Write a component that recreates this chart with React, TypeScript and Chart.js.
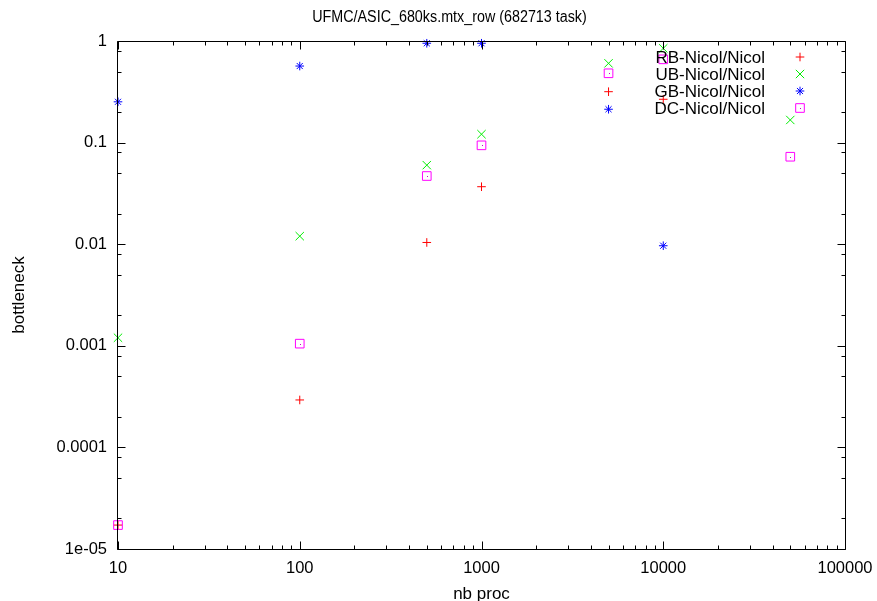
import React, { useEffect, useRef } from "react";
import { Chart, registerables } from "chart.js";
import { drawPoint } from "chart.js/helpers";

Chart.register(...registerables);

const TITLE = "UFMC/ASIC_680ks.mtx_row (682713 task)";
const X_TITLE = "nb proc";
const Y_TITLE = "bottleneck";

const procs = [10, 100, 500, 1000, 5000, 10000, 50000];
const rbValues = [1.72e-5, 2.93e-4, 0.0104, 0.0368, 0.317, 0.267, null];
const ubValues = [0.0012, 0.012, 0.06, 0.121, 0.603, 0.847, 0.167];
const gbValues = [0.252, 0.567, 0.95, 0.95, 0.213, 0.00966, null];
const dcValues = [1.72e-5, 0.00105, 0.0469, 0.094, 0.481, 0.66, 0.0726];

const seriesNames = ["RB-Nicol/Nicol", "UB-Nicol/Nicol", "GB-Nicol/Nicol", "DC-Nicol/Nicol"];

const xTickValues = [10, 100, 1000, 10000, 100000];
const xTickLabels = ["10", "100", "1000", "10000", "100000"];
const yTickValues = [1e-5, 1e-4, 1e-3, 1e-2, 1e-1, 1];
const yTickLabels = ["1e-05", "0.0001", "0.001", "0.01", "0.1", "1"];

const FONT = '"Liberation Sans", Arial, sans-serif';

const styles = [
  { color: "#ff0000", pointStyle: "cross", radius: 4.3, order: 3 },
  { color: "#00ee00", pointStyle: "crossRot", radius: 5.9, order: 2 },
  { color: "#0000ff", pointStyle: "star", radius: 4.3, order: 1 },
  { color: "#ff00ff", pointStyle: "rect", radius: 6.1, order: 0 },
];

function toPoints(vals: (number | null)[]) {
  const pts: { x: number; y: number }[] = [];
  vals.forEach((v, i) => {
    if (v !== null) pts.push({ x: procs[i], y: v });
  });
  return pts;
}

const gnuplotPlugin = {
  id: "gnuplotDecor",
  afterDatasetsDraw(chart: any) {
    const ctx = chart.ctx;
    const meta = chart.getDatasetMeta(3);
    ctx.save();
    ctx.fillStyle = "#cc00cc";
    meta.data.forEach((el: any) => {
      ctx.fillRect(Math.round(el.x), Math.round(el.y), 1, 1);
    });
    ctx.restore();
  },
  afterDraw(chart: any) {
    const { ctx, chartArea: a, scales } = chart;
    const xs = scales.x;
    const ys = scales.y;
    ctx.save();
    ctx.strokeStyle = "#000";
    ctx.lineWidth = 1;
    const L = a.left - 0.5;
    const R = a.right + 0.5;
    const T = a.top + 0.5;
    const B = a.bottom + 0.5;
    ctx.beginPath();
    ctx.rect(L, T, R - L, B - T);
    ctx.stroke();

    const major = 8;
    const minor = 4;
    ctx.beginPath();
    for (let d = 10; d <= 100000; d *= 10) {
      const p = Math.round(xs.getPixelForValue(d)) + 0.5;
      ctx.moveTo(p, B); ctx.lineTo(p, B - major);
      ctx.moveTo(p, T); ctx.lineTo(p, T + major);
      if (d < 100000) {
        for (let m = 2; m <= 9; m++) {
          const q = Math.round(xs.getPixelForValue(d * m)) + 0.5;
          ctx.moveTo(q, B); ctx.lineTo(q, B - minor);
          ctx.moveTo(q, T); ctx.lineTo(q, T + minor);
        }
      }
    }
    for (let e = -5; e <= 0; e++) {
      const d = Math.pow(10, e);
      const p = Math.round(ys.getPixelForValue(d)) + 0.5;
      ctx.moveTo(L, p); ctx.lineTo(L + major, p);
      ctx.moveTo(R, p); ctx.lineTo(R - major, p);
      if (e < 0) {
        for (const m of [2, 5, 8]) {
          const q = Math.round(ys.getPixelForValue(d * m)) + 0.5;
          ctx.moveTo(L, q); ctx.lineTo(L + minor, q);
          ctx.moveTo(R, q); ctx.lineTo(R - minor, q);
        }
      }
    }
    ctx.stroke();

    ctx.fillStyle = "#000";
    ctx.save();
    ctx.font = `16px ${FONT}`;
    ctx.textAlign = "center";
    ctx.textBaseline = "alphabetic";
    ctx.translate(449.5, 21.5);
    ctx.scale(0.895, 1);
    ctx.fillText(TITLE, 0, 0);
    ctx.restore();

    ctx.font = `17px ${FONT}`;
    ctx.textAlign = "center";
    ctx.textBaseline = "alphabetic";
    ctx.fillText(X_TITLE, (a.left + a.right) / 2, 598.5);
    ctx.save();
    ctx.translate(23.5, (a.top + a.bottom) / 2);
    ctx.rotate(-Math.PI / 2);
    ctx.fillText(Y_TITLE, 0, 0);
    ctx.restore();

    ctx.font = `17px ${FONT}`;
    ctx.textAlign = "right";
    ctx.textBaseline = "middle";
    seriesNames.forEach((name, i) => {
      const y = 57 + i * 17;
      ctx.fillStyle = "#000";
      ctx.fillText(name, 765, y + 1);
      const s = styles[i];
      ctx.strokeStyle = s.color;
      ctx.fillStyle = "rgba(0,0,0,0)";
      ctx.lineWidth = 1;
      drawPoint(ctx, { pointStyle: s.pointStyle, radius: s.radius, borderWidth: 1, rotation: 0 } as any, 800, y);
      if (i === 3) {
        ctx.fillStyle = "#cc00cc";
        ctx.fillRect(800, Math.round(y), 1, 1);
      }
    });
    ctx.restore();
  },
};

export default function App() {
  const ref = useRef<HTMLCanvasElement | null>(null);
  useEffect(() => {
    if (!ref.current) return;
    const all = [rbValues, ubValues, gbValues, dcValues];
    const chart = new Chart(ref.current, {
      type: "scatter",
      data: {
        datasets: all.map((vals, i) => ({
          label: seriesNames[i],
          data: toPoints(vals),
          pointStyle: styles[i].pointStyle as any,
          pointRadius: styles[i].radius,
          pointHoverRadius: styles[i].radius,
          borderColor: styles[i].color,
          backgroundColor: "rgba(0,0,0,0)",
          pointBorderWidth: 1,
          borderWidth: 1,
          showLine: false,
          clip: false as any,
          order: styles[i].order,
        })),
      },
      plugins: [gnuplotPlugin as any],
      options: {
        responsive: false,
        animation: false,
        devicePixelRatio: 1,
        layout: { padding: { top: 41, right: 32, left: 0, bottom: 0 } },
        plugins: {
          legend: { display: false },
          title: { display: false },
          tooltip: { enabled: false },
        },
        scales: {
          x: {
            type: "logarithmic",
            min: 10,
            max: 100000,
            grid: { display: false, drawTicks: false },
            border: { display: false },
            afterBuildTicks: (scale: any) => {
              scale.ticks = xTickValues.map((v) => ({ value: v }));
            },
            afterFit: (scale: any) => {
              scale.height = 52;
              scale.paddingLeft = 0;
              scale.paddingRight = 0;
              scale.paddingTop = 0;
              scale.paddingBottom = 0;
            },
            ticks: {
              autoSkip: false,
              maxRotation: 0,
              padding: 10,
              color: "#000",
              font: { family: FONT, size: 16.5 },
              callback: (_v: any, i: number) => xTickLabels[i],
            },
          },
          y: {
            type: "logarithmic",
            min: 1e-5,
            max: 1,
            grid: { display: false, drawTicks: false },
            border: { display: false },
            afterBuildTicks: (scale: any) => {
              scale.ticks = yTickValues.map((v) => ({ value: v }));
            },
            afterFit: (scale: any) => {
              scale.width = 118;
              scale.paddingLeft = 0;
              scale.paddingRight = 0;
              scale.paddingTop = 0;
              scale.paddingBottom = 0;
            },
            ticks: {
              autoSkip: false,
              padding: 11,
              color: "#000",
              font: { family: FONT, size: 16.5 },
              callback: (_v: any, i: number) => yTickLabels[i],
            },
          },
        },
      },
    });
    return () => chart.destroy();
  }, []);
  return (
    <div style={{ position: "fixed", left: 0, top: 0, width: 877, height: 601, background: "#fff" }}>
      <canvas ref={ref} width={877} height={601} />
    </div>
  );
}
